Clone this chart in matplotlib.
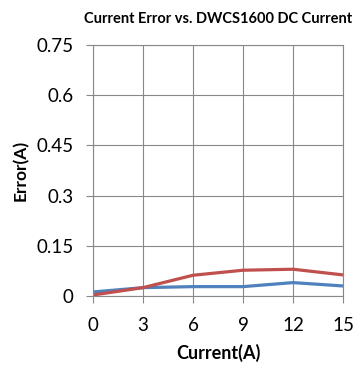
import matplotlib
matplotlib.use("Agg")
import matplotlib.pyplot as plt

current = [0, 3, 6, 9, 12, 15]
error_blue = [0.012, 0.025, 0.028, 0.028, 0.040, 0.030]
error_red = [0.003, 0.025, 0.062, 0.077, 0.080, 0.063]
y_ticks = [0, 0.15, 0.3, 0.45, 0.6, 0.75]
y_labels = ["0", "0.15", "0.3", "0.45", "0.6", "0.75"]

plt.rcParams['font.family'] = ['Lato', 'DejaVu Sans']

fig = plt.figure(figsize=(3.56, 3.65), dpi=100)
ax = fig.add_axes([93/356, 1 - 296/365, 250/356, 251/365])

ax.plot(current, error_blue, color='#4F81BD', lw=2.3, solid_capstyle='butt')
ax.plot(current, error_red, color='#C0504D', lw=2.3, solid_capstyle='butt')

ax.set_xlim(0, 15)
ax.set_ylim(0, 0.75)
ax.set_xticks(current)
ax.set_yticks(y_ticks)
ax.set_yticklabels(y_labels)
ax.grid(True, color='#888888', lw=0.8)
ax.set_axisbelow(True)
for s in ax.spines.values():
    s.set_color('#888888')
    s.set_linewidth(0.8)
ax.tick_params(length=5, width=0.8, color='#888888', labelsize=13.5,
               labelcolor='black')
ax.tick_params(axis='y', pad=9)
ax.tick_params(axis='x', pad=10)

ax.set_xlabel('Current(A)', fontsize=13, fontweight='bold', labelpad=7)
ax.set_ylabel('Error(A)', fontsize=12.5, fontweight='bold', labelpad=5)
fig.text(0.612, 1 - 19/365, 'Current Error vs. DWCS1600 DC Current',
         ha='center', va='center', fontsize=10.5, fontweight='bold')

fig.savefig('out.png', dpi=100)
